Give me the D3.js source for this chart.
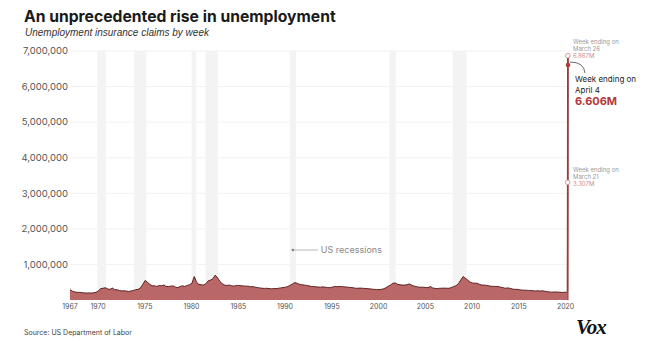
<!DOCTYPE html>
<html>
<head>
<meta charset="utf-8">
<script src="https://cdn.jsdelivr.net/npm/d3@7"></script>
<style>
  body { margin: 0; background: #fff; }
  text { font-family: Inter, "Liberation Sans", sans-serif; }
</style>
</head>
<body>
<div id="chart"></div>
<script>
// quarterly claims (thousands), 1967 to 2019
const startYear = 1967;
const quarterlyClaims = [
  290, 245, 225, 215,   // 1967
  215, 205, 200, 195,   // 1968
  200, 195, 205, 215,   // 1969
  260, 320, 330, 345,   // 1970
  310, 300, 335, 290,   // 1971
  285, 270, 255, 260,   // 1972
  250, 240, 255, 270,   // 1973
  290, 300, 340, 440,   // 1974
  550, 500, 440, 400,   // 1975
  400, 380, 410, 400,   // 1976
  420, 380, 380, 390,   // 1977
  395, 360, 350, 380,   // 1978
  400, 380, 410, 430,   // 1979
  470, 660, 500, 440,   // 1980
  430, 420, 460, 540,   // 1981
  560, 600, 700, 620,   // 1982
  520, 460, 420, 410,   // 1983
  420, 400, 390, 410,   // 1984
  410, 400, 395, 390,   // 1985
  390, 370, 380, 360,   // 1986
  350, 340, 330, 325,   // 1987
  330, 320, 315, 320,   // 1988
  320, 330, 340, 350,   // 1989
  360, 380, 410, 450,   // 1990
  490, 470, 440, 430,   // 1991
  420, 410, 400, 380,   // 1992
  380, 370, 365, 360,   // 1993
  370, 360, 350, 345,   // 1994
  360, 380, 375, 380,   // 1995
  380, 370, 365, 360,   // 1996
  350, 345, 330, 330,   // 1997
  335, 330, 325, 320,   // 1998
  315, 305, 300, 295,   // 1999
  290, 300, 315, 345,   // 2000
  390, 420, 470, 480,   // 2001
  440, 430, 420, 420,   // 2002
  430, 450, 420, 390,   // 2003
  380, 360, 360, 360,   // 2004
  350, 345, 380, 340,   // 2005
  325, 320, 330, 330,   // 2006
  335, 330, 330, 350,   // 2007
  380, 400, 460, 560,   // 2008
  660, 610, 560, 500,   // 2009
  480, 470, 470, 440,   // 2010
  420, 420, 410, 400,   // 2011
  385, 385, 380, 380,   // 2012
  360, 350, 330, 340,   // 2013
  330, 310, 300, 300,   // 2014
  290, 280, 275, 275,   // 2015
  270, 265, 260, 255,   // 2016
  260, 250, 260, 245,   // 2017
  235, 225, 220, 225,   // 2018
  225, 220, 215, 215    // 2019
];

// weekly claims in 2020 (thousands)
const weeks2020 = ["2020-01-04", "2020-01-25", "2020-02-22", "2020-03-14", "2020-03-21", "2020-03-28", "2020-04-04"];
const weeklyClaims2020 = [220, 215, 215, 250, 3307, 6867, 6606];

const recessions = [
  ["1969-12-01", "1970-11-01"],
  ["1973-11-01", "1975-03-01"],
  ["1980-01-01", "1980-07-01"],
  ["1981-07-01", "1982-11-01"],
  ["1990-07-01", "1991-03-01"],
  ["2001-03-01", "2001-11-01"],
  ["2007-12-01", "2009-06-01"]
];

const yTicks = [1000000, 2000000, 3000000, 4000000, 5000000, 6000000, 7000000];
const xTickYears = [1967, 1970, 1975, 1980, 1985, 1990, 1995, 2000, 2005, 2010, 2015, 2020];

const width = 650, height = 341;
const colorFill = "#b96867";
const colorLine = "#4e1414";
const colorRed = "#b23a3a";

const parse = d3.timeParse("%Y-%m-%d");

let data = quarterlyClaims.map((v, i) => ({
  date: new Date(startYear + Math.floor(i / 4), (i % 4) * 3, i === 0 ? 1 : 15),
  value: v * 1000
}));
weeks2020.forEach((w, i) => data.push({date: parse(w), value: weeklyClaims2020[i] * 1000}));

const svg = d3.select("#chart").append("svg")
  .attr("width", width)
  .attr("height", height);

const x = d3.scaleTime()
  .domain([new Date(1967, 0, 1), parse("2020-04-04")])
  .range([70, 568]);

const y = d3.scaleLinear()
  .domain([0, 7000000])
  .range([300, 51]);

// title
svg.append("text")
  .attr("x", 24).attr("y", 22)
  .style("font-size", "15.7px").style("font-weight", 700)
  .attr("fill", "#1a1a1a")
  .text("An unprecedented rise in unemployment");

svg.append("text")
  .attr("x", 25).attr("y", 36)
  .style("font-family", "'Liberation Sans', sans-serif")
  .style("font-size", "10px").style("font-style", "italic")
  .attr("fill", "#333")
  .text("Unemployment insurance claims by week");

// gridlines
svg.append("g")
  .selectAll("line")
  .data(yTicks)
  .enter()
  .append("line")
  .attr("x1", 70).attr("x2", 570)
  .attr("y1", d => y(d)).attr("y2", d => y(d))
  .attr("stroke", "#f1f1f1");

// recession bands
svg.append("g")
  .selectAll("rect")
  .data(recessions)
  .enter()
  .append("rect")
  .attr("x", d => x(parse(d[0])))
  .attr("width", d => x(parse(d[1])) - x(parse(d[0])))
  .attr("y", y(7000000))
  .attr("height", y(0) - y(7000000))
  .attr("fill", "#f3f3f3");

// y labels
svg.append("g")
  .selectAll("text")
  .data(yTicks)
  .enter()
  .append("text")
  .attr("x", 68)
  .attr("y", d => y(d))
  .attr("dy", "0.35em")
  .attr("text-anchor", "end")
  .style("font-size", "9.5px")
  .attr("fill", "#555")
  .text(d => d3.format(",")(d));

// area + line
const area = d3.area()
  .x(d => x(d.date))
  .y0(y(0))
  .y1(d => y(d.value));

const line = d3.line()
  .x(d => x(d.date))
  .y(d => y(d.value));

svg.append("path")
  .datum(data)
  .attr("d", area)
  .attr("fill", colorFill);

svg.append("path")
  .datum(data)
  .attr("d", line)
  .attr("fill", "none")
  .attr("stroke", colorLine)
  .attr("stroke-width", 0.9);

// spike line (last weeks) drawn in red
svg.append("path")
  .datum(data.slice(-4))
  .attr("d", line)
  .attr("fill", "none")
  .attr("stroke", "#9c3a3a")
  .attr("stroke-width", 1.5);

svg.append("line")
  .attr("x1", x(parse("2020-04-04"))).attr("x2", x(parse("2020-04-04")))
  .attr("y1", y(6606000)).attr("y2", y(0))
  .attr("stroke", "#9c3a3a")
  .attr("stroke-width", 1);

// x axis labels
svg.append("g")
  .selectAll("text")
  .data(xTickYears)
  .enter()
  .append("text")
  .attr("x", d => x(new Date(d, 0, 1)))
  .attr("y", 309)
  .attr("text-anchor", "middle")
  .style("font-size", "7px")
  .attr("fill", "#555")
  .text(d => d);

// markers
const last = data.slice(-3);
svg.append("circle")
  .attr("cx", x(last[0].date)).attr("cy", y(last[0].value)).attr("r", 2.3)
  .attr("fill", "#fff").attr("stroke", "#d49a9a").attr("stroke-width", 1);
svg.append("circle")
  .attr("cx", x(last[1].date)).attr("cy", y(last[1].value)).attr("r", 2.3)
  .attr("fill", "#fff").attr("stroke", "#d49a9a").attr("stroke-width", 1);
svg.append("circle")
  .attr("cx", x(last[2].date)).attr("cy", y(last[2].value)).attr("r", 2.3)
  .attr("fill", colorRed);

// annotations
function smallNote(yBase, date, val) {
  const g = svg.append("g").style("font-size", "6px");
  g.append("text").attr("x", 573).attr("y", yBase).attr("fill", "#999").text("Week ending on");
  g.append("text").attr("x", 573).attr("y", yBase + 7).attr("fill", "#999").text(date);
  g.append("text").attr("x", 573).attr("y", yBase + 14).attr("fill", "#d08a8a").text(val);
}
smallNote(44, "March 26", "6.867M");
smallNote(172, "March 21", "3.307M");

svg.append("path")
  .attr("d", "M570,62 Q584,62 585,73")
  .attr("fill", "none")
  .attr("stroke", "#444")
  .attr("stroke-width", 0.8);

svg.append("text").attr("x", 575).attr("y", 82)
  .style("font-size", "8px").attr("fill", "#222").text("Week ending on");
svg.append("text").attr("x", 575).attr("y", 93)
  .style("font-size", "8px").attr("fill", "#222").text("April 4");
svg.append("text").attr("x", 575).attr("y", 105)
  .style("font-size", "11px").style("font-weight", 700).attr("fill", colorRed).text("6.606M");

// recession note
const noteX = x(parse("1990-11-01"));
svg.append("circle").attr("cx", noteX).attr("cy", 250).attr("r", 1.2).attr("fill", "#777");
svg.append("line").attr("x1", noteX).attr("x2", noteX + 25).attr("y1", 250).attr("y2", 250)
  .attr("stroke", "#999").attr("stroke-width", 0.7);
svg.append("text").attr("x", noteX + 28).attr("y", 253)
  .style("font-size", "9px").attr("fill", "#888").text("US recessions");

// footer
svg.append("text").attr("x", 24).attr("y", 335)
  .style("font-size", "7px").attr("fill", "#444").text("Source: US Department of Labor");

svg.append("text").attr("x", 576).attr("y", 334)
  .style("font-family", "'Liberation Serif', 'DejaVu Serif', serif")
  .style("font-size", "21px").style("font-weight", 700).style("font-style", "italic")
  .style("letter-spacing", "-1px")
  .attr("fill", "#111").text("Vox");
</script>
</body>
</html>
